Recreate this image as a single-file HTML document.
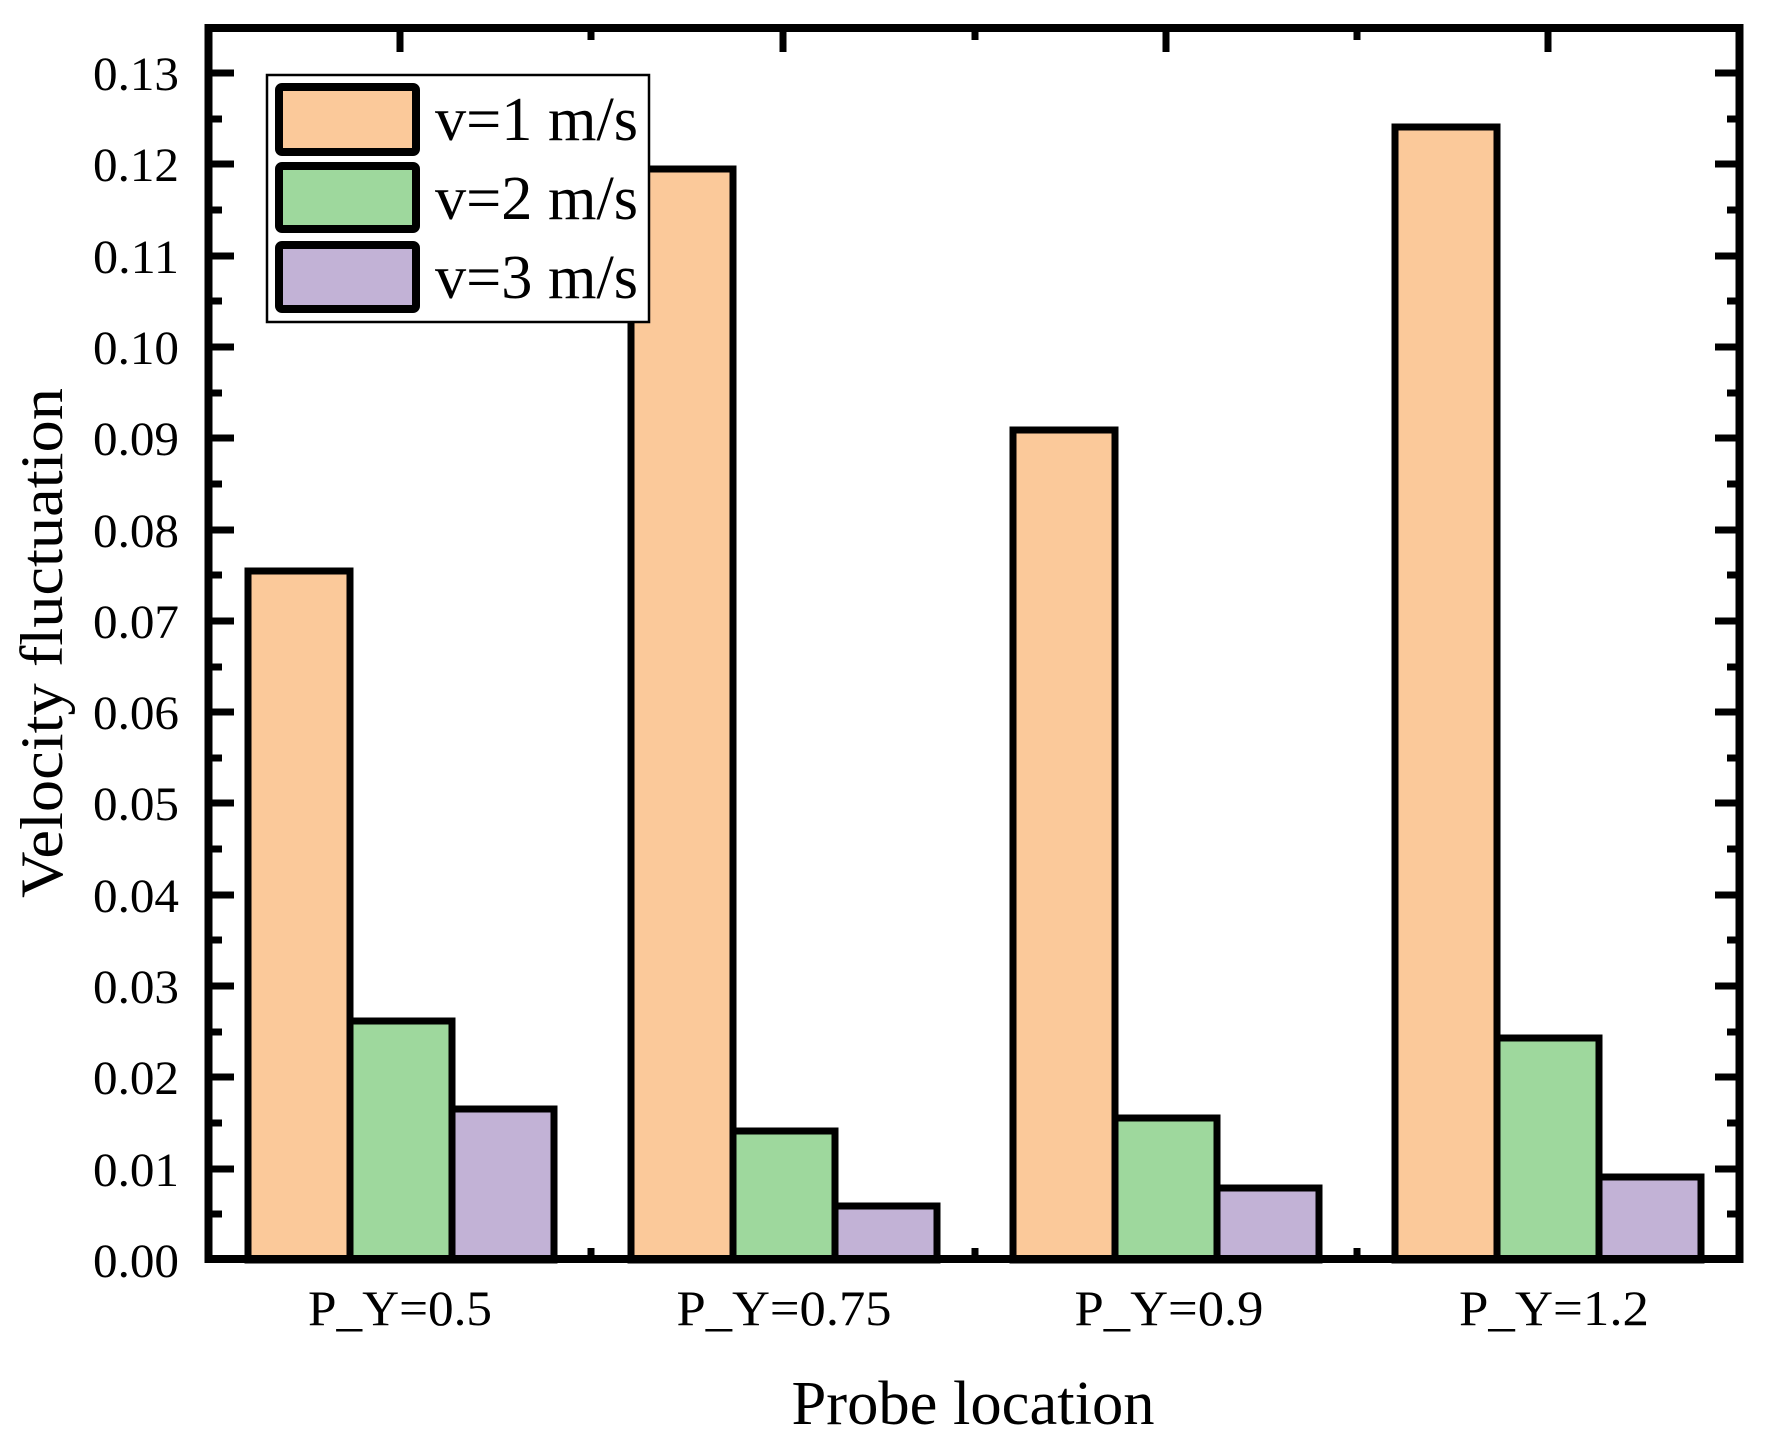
<!DOCTYPE html>
<html><head><meta charset="utf-8"><style>html,body{margin:0;padding:0;background:#fff}svg{display:block}</style></head>
<body>
<svg xmlns="http://www.w3.org/2000/svg" width="1765" height="1446" viewBox="0 0 1765 1446">
<rect width="1765" height="1446" fill="#fff"/>
<g font-family="Liberation Serif, serif" fill="#000">
<g font-size="48" text-anchor="end">
<text x="179" y="90" textLength="86" lengthAdjust="spacingAndGlyphs">0.13</text>
<text x="179" y="181" textLength="86" lengthAdjust="spacingAndGlyphs">0.12</text>
<text x="179" y="273" textLength="86" lengthAdjust="spacingAndGlyphs">0.11</text>
<text x="179" y="364" textLength="86" lengthAdjust="spacingAndGlyphs">0.10</text>
<text x="179" y="455" textLength="86" lengthAdjust="spacingAndGlyphs">0.09</text>
<text x="179" y="547" textLength="86" lengthAdjust="spacingAndGlyphs">0.08</text>
<text x="179" y="638" textLength="86" lengthAdjust="spacingAndGlyphs">0.07</text>
<text x="179" y="729" textLength="86" lengthAdjust="spacingAndGlyphs">0.06</text>
<text x="179" y="820" textLength="86" lengthAdjust="spacingAndGlyphs">0.05</text>
<text x="179" y="912" textLength="86" lengthAdjust="spacingAndGlyphs">0.04</text>
<text x="179" y="1003" textLength="86" lengthAdjust="spacingAndGlyphs">0.03</text>
<text x="179" y="1094" textLength="86" lengthAdjust="spacingAndGlyphs">0.02</text>
<text x="179" y="1186" textLength="86" lengthAdjust="spacingAndGlyphs">0.01</text>
<text x="179" y="1277" textLength="86" lengthAdjust="spacingAndGlyphs">0.00</text>
</g>
<g font-size="50" text-anchor="middle">
<text x="400" y="1325" textLength="184" lengthAdjust="spacingAndGlyphs">P_Y=0.5</text>
<text x="784" y="1325" textLength="215" lengthAdjust="spacingAndGlyphs">P_Y=0.75</text>
<text x="1169" y="1325" textLength="189" lengthAdjust="spacingAndGlyphs">P_Y=0.9</text>
<text x="1554" y="1325" textLength="190" lengthAdjust="spacingAndGlyphs">P_Y=1.2</text>
</g>
<text x="973" y="1424" font-size="62" text-anchor="middle" textLength="363" lengthAdjust="spacingAndGlyphs">Probe location</text>
<text transform="translate(62,643) rotate(-90)" font-size="60" text-anchor="middle" textLength="510" lengthAdjust="spacingAndGlyphs">Velocity fluctuation</text>
</g>

<g stroke="#000" stroke-width="7" stroke-linejoin="miter">
<rect x="248" y="571" width="102" height="689" fill="#FBC99A"/>
<rect x="350" y="1021" width="102" height="239" fill="#9ED89D"/>
<rect x="452" y="1109" width="102" height="151" fill="#C2B2D6"/>

<rect x="631" y="169" width="102" height="1091" fill="#FBC99A"/>
<rect x="733" y="1131" width="102" height="129" fill="#9ED89D"/>
<rect x="835" y="1206" width="102" height="54" fill="#C2B2D6"/>

<rect x="1013" y="430" width="102" height="830" fill="#FBC99A"/>
<rect x="1115" y="1118" width="102" height="142" fill="#9ED89D"/>
<rect x="1217" y="1188" width="102" height="72" fill="#C2B2D6"/>

<rect x="1395" y="127" width="102" height="1133" fill="#FBC99A"/>
<rect x="1497" y="1038" width="102" height="222" fill="#9ED89D"/>
<rect x="1599" y="1177" width="102" height="83" fill="#C2B2D6"/>
</g>

<g stroke="#000" stroke-width="7">
<path d="M212 73h22M212 164h22M212 256h22M212 347h22M212 438h22M212 530h22M212 621h22M212 712h22M212 803h22M212 895h22M212 986h22M212 1077h22M212 1169h22"/>
<path d="M212 119h10M212 210h10M212 301h10M212 393h10M212 484h10M212 575h10M212 667h10M212 758h10M212 849h10M212 940h10M212 1032h10M212 1123h10M212 1214h10"/>
<path d="M1737 73h-22M1737 164h-22M1737 256h-22M1737 347h-22M1737 438h-22M1737 530h-22M1737 621h-22M1737 712h-22M1737 803h-22M1737 895h-22M1737 986h-22M1737 1077h-22M1737 1169h-22"/>
<path d="M1737 119h-10M1737 210h-10M1737 301h-10M1737 393h-10M1737 484h-10M1737 575h-10M1737 667h-10M1737 758h-10M1737 849h-10M1737 940h-10M1737 1032h-10M1737 1123h-10M1737 1214h-10"/>
<path d="M400 32v20M783 32v20M1166 32v20M1548 32v20"/>
<path d="M591 32v8M975 32v8M1357 32v8"/>
<path d="M591 1256v-8M975 1256v-8M1357 1256v-8"/>
</g>

<rect x="208.5" y="28" width="1531" height="1231" fill="none" stroke="#000" stroke-width="8"/>

<rect x="267" y="75" width="382" height="247" fill="#fff" stroke="#000" stroke-width="2.5"/>
<g stroke="#000" stroke-width="8">
<rect x="279" y="87" width="137" height="65" rx="3" fill="#FBC99A"/>
<rect x="279" y="166" width="137" height="63" rx="3" fill="#9ED89D"/>
<rect x="279" y="245" width="137" height="64" rx="3" fill="#C2B2D6"/>
</g>
<g font-family="Liberation Serif, serif" font-size="62" fill="#000">
<text x="435" y="140" textLength="203" lengthAdjust="spacingAndGlyphs">v=1 m/s</text>
<text x="435" y="219" textLength="203" lengthAdjust="spacingAndGlyphs">v=2 m/s</text>
<text x="435" y="298" textLength="203" lengthAdjust="spacingAndGlyphs">v=3 m/s</text>
</g>
</svg>
</body></html>
